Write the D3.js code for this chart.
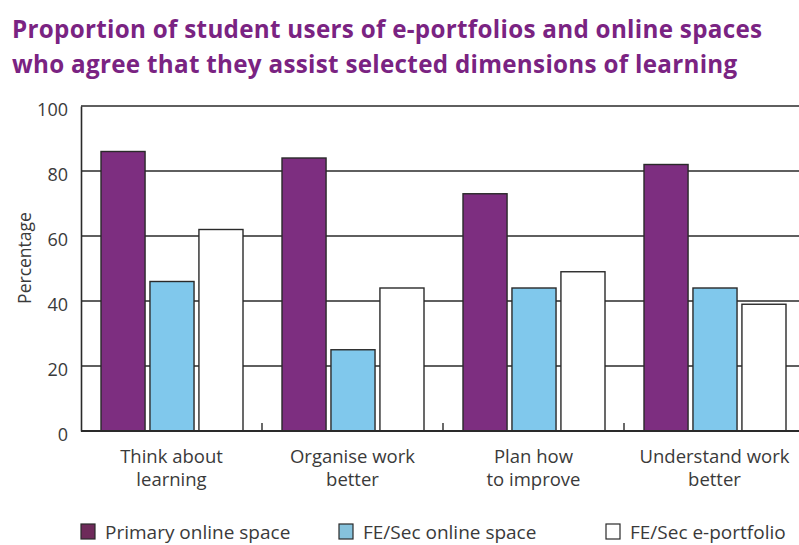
<!DOCTYPE html>
<html><head><meta charset="utf-8">
<script src="https://cdn.jsdelivr.net/npm/d3@7"></script>
<style>body{margin:0;background:#fff}svg{display:block}</style>
</head><body>
<svg id="c" width="799" height="545"></svg>
<script>
const categories = [["Think about","learning"],["Organise work","better"],["Plan how","to improve"],["Understand work","better"]];
const seriesNames = ["Primary online space","FE/Sec online space","FE/Sec e-portfolio"];
const primaryOnline = [86, 84, 73, 82];
const feSecOnline = [46, 25, 44, 44];
const feSecPortfolio = [62, 44, 49, 39];
const yTicks = [0, 20, 40, 60, 80, 100];
const colors = ["#7d2e80", "#80c8ec", "#ffffff"];

const series = [primaryOnline, feSecOnline, feSecPortfolio];
const svg = d3.select("#c");
const font = "'Open Sans', 'DejaVu Sans', sans-serif";
const L = 81, R = 805, T = 106, B = 431;

const titleLines = ["Proportion of student users of e-portfolios and online spaces",
                    "who agree that they assist selected dimensions of learning"];
svg.append("g").selectAll("text").data(titleLines).join("text")
  .attr("x", 12).attr("y", (d, i) => 38 + i * 35).attr("fill", "#7a2382")
  .attr("font-family", font).attr("font-weight", "bold").attr("font-size", 24.2)
  .attr("letter-spacing", 0.3)
  .text(d => d);

const y = d3.scaleLinear().domain([0, 100]).range([B, T]);
const x0 = d3.scaleBand().domain(d3.range(categories.length)).range([L, R]).padding(0);
const x1 = d3.scaleBand().domain(d3.range(series.length)).range([20, x0.bandwidth() - 19]).paddingInner(0.1);

// gridlines
svg.append("g").selectAll("line").data(yTicks.filter(d => d > 0)).join("line")
  .attr("x1", L).attr("x2", R).attr("y1", d => y(d)).attr("y2", d => y(d))
  .attr("stroke", "#2a2a2a").attr("stroke-width", 1.6);

// y axis
const yAxis = d3.axisLeft(y).tickValues(yTicks).tickSize(0).tickPadding(13);
const ga = svg.append("g").attr("transform", `translate(${L},0)`).call(yAxis);
ga.select(".domain").attr("stroke", "#2a2a2a").attr("stroke-width", 1.6);
ga.selectAll("text").attr("font-family", font).attr("font-size", 18).attr("fill", "#3a3a3a").attr("dy", "0.55em");

// bars
const groups = svg.append("g").selectAll("g").data(categories).join("g")
  .attr("transform", (d, i) => `translate(${x0(i)},0)`);
groups.selectAll("rect").data((d, i) => series.map((s, k) => ({k, v: s[i]}))).join("rect")
  .attr("x", d => x1(d.k)).attr("width", x1.bandwidth())
  .attr("y", d => y(d.v)).attr("height", d => y(0) - y(d.v))
  .attr("fill", d => colors[d.k]).attr("stroke", "#2a2a2a").attr("stroke-width", 1.4);

// baseline
svg.append("line").attr("x1", L).attr("x2", R).attr("y1", B).attr("y2", B)
  .attr("stroke", "#2a2a2a").attr("stroke-width", 1.8);
// group separator ticks
svg.append("g").selectAll("line").data(d3.range(1, categories.length)).join("line")
  .attr("x1", i => x0(i)).attr("x2", i => x0(i)).attr("y1", B).attr("y2", B - 8)
  .attr("stroke", "#2a2a2a").attr("stroke-width", 1.4);

// category labels
const cl = svg.append("g").selectAll("text").data(categories).join("text")
  .attr("x", (d, i) => x0(i) + x0.bandwidth() / 2).attr("y", 463)
  .attr("text-anchor", "middle").attr("font-family", font).attr("font-size", 18.5).attr("fill", "#3a3a3a");
cl.selectAll("tspan").data(d => d).join("tspan")
  .attr("x", function() { return this.parentNode.getAttribute("x"); })
  .attr("dy", (d, j) => j === 0 ? 0 : 23).text(d => d);

// y label
svg.append("text").attr("transform", "translate(31,258) rotate(-90)")
  .attr("text-anchor", "middle").attr("font-family", font).attr("font-size", 17.5).attr("fill", "#3a3a3a")
  .text("Percentage");

// legend
const legX = [81, 339, 606];
const legFill = ["#6e2a5a", "#86c2dc", "#ffffff"];
const lg = svg.append("g").selectAll("g").data(seriesNames).join("g")
  .attr("transform", (d, i) => `translate(${legX[i]},524)`);
lg.append("rect").attr("width", 14).attr("height", 15)
  .attr("fill", (d, i) => legFill[i])
  .attr("stroke", "#2a2a2a").attr("stroke-width", 1.2);
lg.append("text").attr("x", 24).attr("y", 15).attr("font-family", font).attr("font-size", 19).attr("fill", "#3a3a3a")
  .text(d => d);
</script>
</body></html>
